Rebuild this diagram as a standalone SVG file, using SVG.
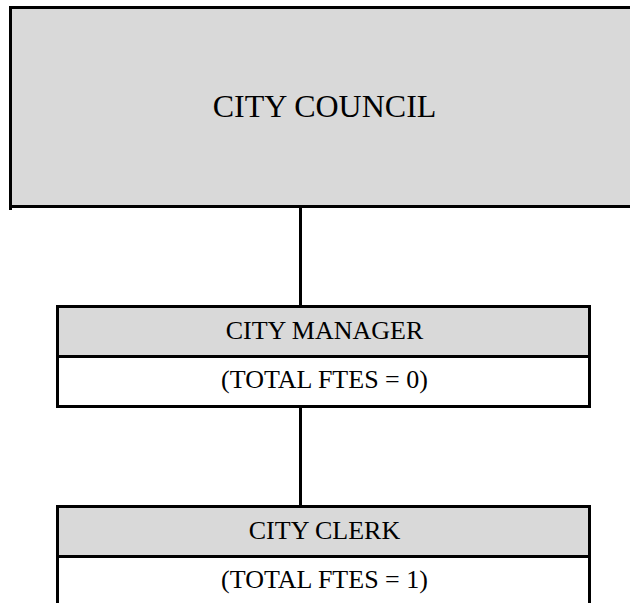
<svg xmlns="http://www.w3.org/2000/svg" width="630" height="603" viewBox="0 0 630 603">
  <style>
    .hdr { fill: #d9d9d9; }
    .body { fill: #ffffff; }
    .edge { stroke: #000000; stroke-width: 3; fill: none; stroke-linecap: square; }
    .lbl { font-family: "Liberation Serif", "Times New Roman", serif; fill: #000000; text-anchor: middle; }
    .big { font-size: 32px; }
    .small { font-size: 26px; }
  </style>

  <!-- connectors -->
  <g id="connectors" class="edge">
    <line x1="300.5" y1="208" x2="300.5" y2="305"/>
    <line x1="300.5" y1="408" x2="300.5" y2="505"/>
  </g>

  <!-- council -->
  <g id="city-council">
    <rect class="hdr" x="10.5" y="7.5" width="625" height="199"/>
    <path class="edge" d="M10.5 208.5 V7.5 H632 M10.5 206.5 H632"/>
    <text class="lbl big" x="324.5" y="117">CITY COUNCIL</text>
  </g>

  <!-- manager -->
  <g id="city-manager">
    <rect class="hdr" x="57.5" y="306.5" width="532" height="50"/>
    <rect class="body" x="57.5" y="356.5" width="532" height="50"/>
    <rect class="edge" x="57.5" y="306.5" width="532" height="100"/>
    <line class="edge" x1="57.5" y1="356.5" x2="589.5" y2="356.5"/>
    <text class="lbl small" x="324.5" y="339">CITY MANAGER</text>
    <text class="lbl small" x="324.5" y="388">(TOTAL FTES = 0)</text>
  </g>

  <!-- clerk -->
  <g id="city-clerk">
    <rect class="hdr" x="57.5" y="506.5" width="532" height="50"/>
    <rect class="body" x="57.5" y="556.5" width="532" height="50"/>
    <path class="edge" d="M57.5 610 V506.5 H589.5 V610 M57.5 556.5 H589.5"/>
    <text class="lbl small" x="324.5" y="539">CITY CLERK</text>
    <text class="lbl small" x="324.5" y="588">(TOTAL FTES = 1)</text>
  </g>
</svg>
